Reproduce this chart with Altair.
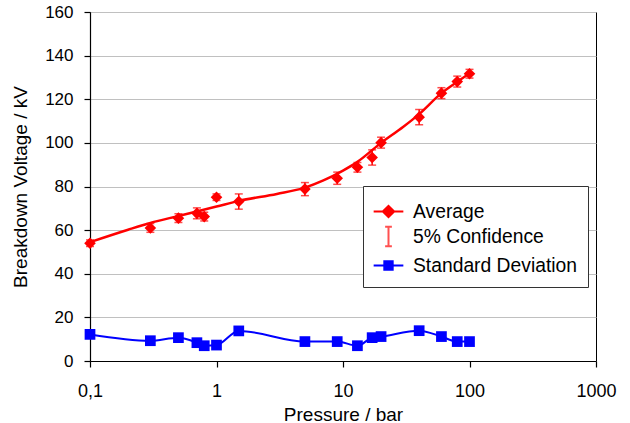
import altair as alt
import pandas as pd

# ---- data ----
pressure = [0.1, 0.3, 0.5, 0.7, 0.8, 1, 1.5, 5, 9, 13, 17, 20, 40, 60, 80, 100]
average = [54.0, 61.0, 65.5, 67.7, 66.2, 75.1, 73.1, 78.8, 83.8, 88.8, 93.3, 100.1, 111.8, 122.8, 128.1, 131.7]
confidence = [1.5, 2.0, 2.0, 2.5, 2.0, 1.5, 3.5, 3.0, 2.8, 2.2, 3.5, 2.5, 3.5, 2.5, 2.5, 2.0]
std_dev = [12.2, 9.3, 10.7, 8.4, 7.0, 7.3, 13.8, 8.9, 8.9, 7.0, 10.7, 11.2, 13.9, 11.2, 8.9, 8.9]

# smooth red curve of the average
fit_pressure = [0.1, 0.2, 0.3, 0.5, 1, 1.5, 3, 5, 7, 10, 13, 20, 30, 40, 60, 80, 100]
fit_voltage = [54.5, 60.2, 63.3, 66.5, 70.8, 73.4, 76.6, 79.5, 82.8, 87.3, 91.3, 100.0, 107.4, 113.2, 122.8, 128.0, 131.8]

series_names = ["Average", "5% Confidence", "Standard Deviation"]
x_ticks = [0.1, 1, 10, 100, 1000]
y_ticks = [0, 20, 40, 60, 80, 100, 120, 140, 160]

df = pd.DataFrame({"p": pressure, "avg": average, "ci": confidence, "sd": std_dev})
df["lo"] = df["avg"] - df["ci"]
df["hi"] = df["avg"] + df["ci"]
fit_df = pd.DataFrame({"p": fit_pressure, "avg": fit_voltage})

FONT = "Liberation Sans"
RED = "#ff0000"
BLUE = "#0000ff"

x_axis = alt.Axis(
    values=x_ticks, grid=False, tickSize=6, labelPadding=15, labelFontSize=18,
    labelExpr="replace(format(datum.value, '~g'), '.', ',')", labelFlush=False,
    titleFontSize=19, titleY=59, titleBaseline="alphabetic",
)
y_axis = alt.Axis(
    values=y_ticks, grid=True, gridColor="#c0c0c0", gridWidth=1.2, tickSize=6,
    labelPadding=11, labelFontSize=17, labelFlush=False,
    titleFontSize=19, titleX=-70, titleY=174.5, titleBaseline="middle",
)
x_scale = alt.Scale(type="log", domain=[0.1, 1000])
y_scale = alt.Scale(domain=[0, 160])


def X(field="p"):
    return alt.X(f"{field}:Q", scale=x_scale, axis=x_axis, title="Pressure / bar")


def Y(field):
    return alt.Y(f"{field}:Q", scale=y_scale, axis=y_axis, title="Breakdown Voltage / kV")


base = alt.Chart(df)

trend = alt.Chart(fit_df).mark_line(color=RED, strokeWidth=2.5, interpolate="monotone").encode(
    x=X(), y=Y("avg")
)

err_rule = base.mark_rule(color=RED, strokeWidth=1.5).encode(x=X(), y=Y("lo"), y2="hi")
cap_lo = base.mark_tick(color=RED, orient="horizontal", size=8, thickness=1.5).encode(x=X(), y=Y("lo"))
cap_hi = base.mark_tick(color=RED, orient="horizontal", size=8, thickness=1.5).encode(x=X(), y=Y("hi"))
diamonds = base.mark_point(shape="diamond", filled=True, size=135, color=RED, opacity=1).encode(
    x=X(), y=Y("avg")
)

sd_line = base.mark_line(color=BLUE, strokeWidth=2, interpolate="monotone").encode(x=X(), y=Y("sd"))
squares = base.mark_point(shape="square", filled=True, size=115, color=BLUE, opacity=1).encode(
    x=X(), y=Y("sd")
)

# legend-only layer (invisible marks, visible legend symbols)
legend_df = pd.DataFrame({"series": series_names})
sym_paths = [
    "M-1.1,0L1.1,0M-0.42,0L0,-0.42L0.42,0L0,0.42Z",
    "M0,-0.72L0,0.72M-0.25,-0.72L0.25,-0.72M-0.25,0.72L0.25,0.72",
    "M-1.1,0L1.1,0M-0.31,-0.31L0.31,-0.31L0.31,0.31L-0.31,0.31Z",
]
legend_cfg = alt.Legend(
    title=None, orient="none", legendX=273, legendY=174,
    strokeColor="#333333", fillColor="white", padding=11,
    symbolSize=729, symbolStrokeWidth=2, symbolOpacity=1,
    labelFontSize=19.3, labelFont=FONT, labelColor="black", labelLimit=400,
    rowPadding=-6, labelOffset=10,
)
legend_layer = alt.Chart(legend_df).mark_point(filled=True, opacity=0).encode(
    fill=alt.Fill("series:N", scale=alt.Scale(domain=series_names, range=[RED, "#ff5050", BLUE]), legend=legend_cfg),
    stroke=alt.Stroke("series:N", scale=alt.Scale(domain=series_names, range=[RED, "#ff5050", BLUE]), legend=legend_cfg),
    shape=alt.Shape("series:N", scale=alt.Scale(domain=series_names, range=sym_paths), legend=legend_cfg),
)

chart = (
    alt.layer(trend, err_rule, diamonds, cap_lo, cap_hi, sd_line, squares, legend_layer)
    .properties(
        width=506, height=349,
        padding={"left": 90, "top": 12, "right": 34, "bottom": 62},
        autosize=alt.AutoSizeParams(type="none"),
        background="white",
    )
    .configure_view(stroke="#000000", strokeWidth=1)
    .configure_axis(
        labelFont=FONT, titleFont=FONT, titleFontWeight="normal",
        labelColor="black", titleColor="black",
        domainColor="black", domainWidth=1.2, tickColor="black", tickWidth=1.2,
    )
)

chart.save("out.html", embed_options={"renderer": "svg", "actions": False})
